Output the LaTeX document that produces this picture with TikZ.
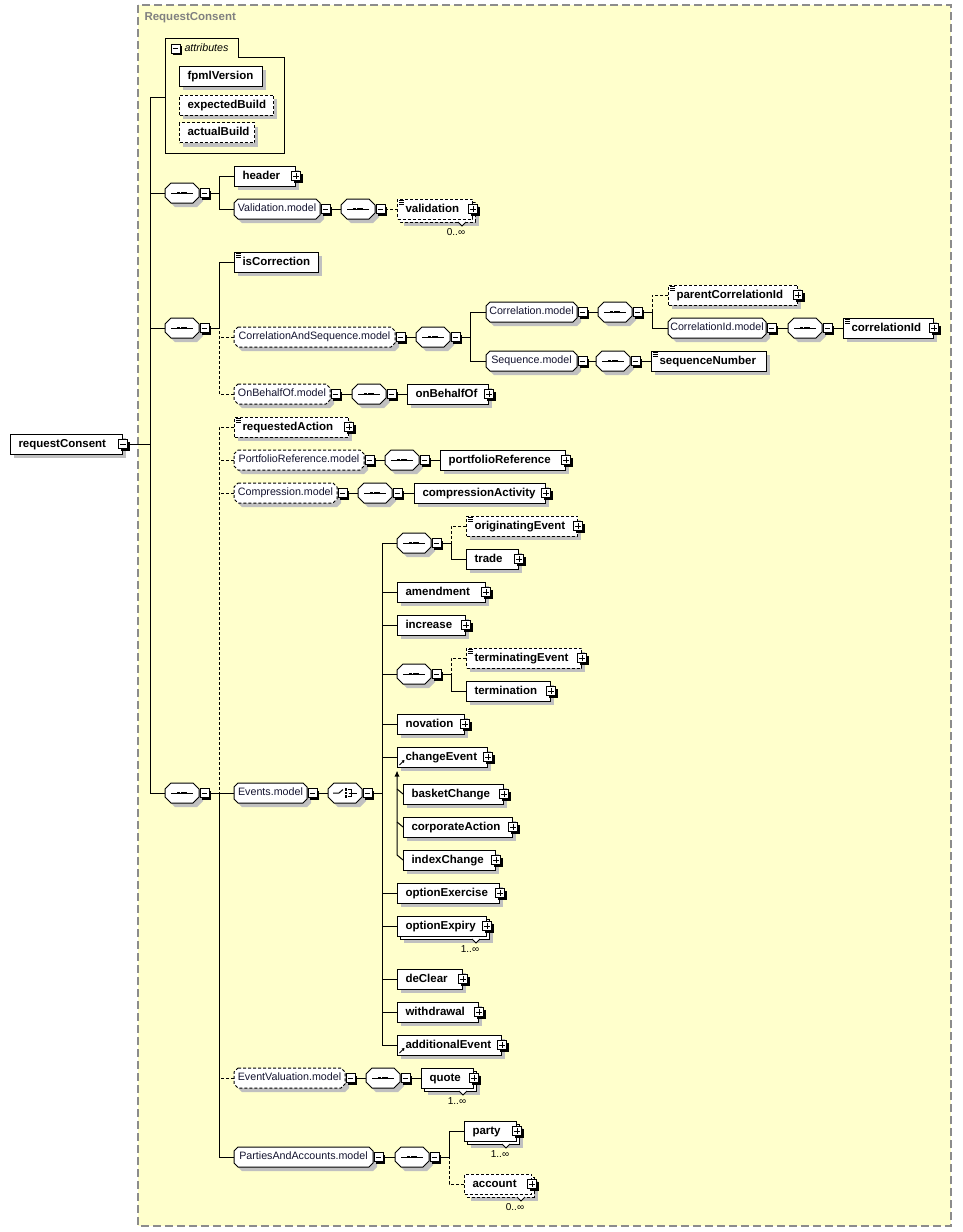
\documentclass[tikz,border=0pt]{standalone}
\usepackage{fontspec}
\setmainfont{Liberation Sans}
\usetikzlibrary{arrows.meta}
\definecolor{bgyellow}{RGB}{255,255,204}
\definecolor{shadowgray}{RGB}{192,192,192}
\definecolor{bordergray}{RGB}{140,140,140}
\definecolor{titlegray}{RGB}{128,128,128}
\definecolor{modtext}{RGB}{20,20,48}
\newcommand{\xElFont}{\fontsize{11.5}{13}\selectfont\bfseries}
\newcommand{\xMdFont}{\fontsize{10.7}{12}\selectfont}
\newcommand{\xMlFont}{\fontsize{10}{11}\selectfont}
\tikzset{
 dsh/.style={dash pattern=on 3pt off 2pt},
 elbox/.style={rectangle, draw, fill=white, minimum height=20pt, inner xsep=8pt, inner ysep=0pt, anchor=west, align=left, font=\xElFont, text height=8.5pt, text depth=2.5pt},
 modbox/.style={rectangle, inner sep=0pt, minimum height=20pt, font=\xMdFont, text=modtext, text height=8pt, text depth=2.2pt},
 compbox/.style={rectangle, inner sep=0pt, minimum width=34pt, minimum height=20pt},
 pmsh/.style={rectangle, fill=black, minimum size=9pt, inner sep=0pt},
 pmbox/.style={rectangle, draw, fill=white, minimum size=9pt, inner sep=0pt, line width=0.8pt},
 pmminus/.style={path picture={\draw[line width=0.8pt] ([xshift=1.8pt]path picture bounding box.west) -- ([xshift=-1.8pt]path picture bounding box.east);}},
 pmplus/.style={path picture={\draw[line width=0.8pt] ([xshift=1.8pt]path picture bounding box.west) -- ([xshift=-1.8pt]path picture bounding box.east) ([yshift=1.8pt]path picture bounding box.south) -- ([yshift=-1.8pt]path picture bounding box.north);}},
 multlabel/.style={font=\xMlFont, inner sep=0pt},
}
% octagon outline: style, x1, x2, yc, chamfer
\newcommand{\xOct}[5]{%
  \path[#1] ({#2+#5},{#4-10}) -- ({#3-#5},{#4-10}) -- ({#3},{#4-10+#5}) -- ({#3},{#4+10-#5}) -- ({#3-#5},{#4+10}) -- ({#2+#5},{#4+10}) -- ({#2},{#4+10-#5}) -- ({#2},{#4-10+#5}) -- cycle;}
% element box: opts, name, x1, x2, yc, text
\newcommand{\xEl}[6][]{%
  \fill[shadowgray] ({#3+4},{#5-6}) rectangle ({#4+4},{#5+14});
  \pgfmathsetmacro{\xTW}{#4-#3-16}%
  \node[elbox,#1,text width=\xTW pt] (#2) at (#3,#5) {#6};}
% repeated element box: opts, name, x1, x2, yc, text, label
\newcommand{\xElM}[7][]{%
  \fill[shadowgray] ({#3+7},{#5-3}) rectangle ({#4+7},{#5+17});
  \draw[fill=white,#1] ({#3+3},{#5-7}) rectangle ({#4+3},{#5+13});
  \pgfmathsetmacro{\xTW}{#4-#3-16}%
  \node[elbox,#1,text width=\xTW pt] (#2) at (#3,#5) {#6};
  \draw[fill=white,line width=0.8pt] ({#4-14},{#5+13}) -- ({#4-10},{#5+17}) -- ({#4-6},{#5+13});
  \node[multlabel] (#2-ml) at ({#4-16},{#5+23.5}) {#7};}
% model group: opts, name, x1, x2, yc, text
\newcommand{\xMod}[6][]{%
  \xOct{fill=shadowgray,shift={(4,4)}}{#3}{#4}{#5}{4}
  \xOct{draw,fill=white,#1}{#3}{#4}{#5}{4}
  \pgfmathsetmacro{\xMW}{#4-#3}%
  \node[modbox,minimum width=\xMW pt] (#2) at ({(#3+#4)/2},{#5}) {#6};
  \xMinus{#2}}
\newcommand{\xMinus}[1]{%
  \node[pmsh,anchor=west] at ([shift={(2,2)}]#1.east) {};
  \node[pmbox,pmminus,anchor=west] (#1-m) at (#1.east) {};}
\newcommand{\xMinusC}[1]{%
  \node[pmsh] at ([shift={(2,2)}]#1.east) {};
  \node[pmbox,pmminus] (#1-m) at (#1.east) {};}
\newcommand{\xPlus}[1]{%
  \node[pmsh] at ([shift={(2,2)}]#1.east) {};
  \node[pmbox,pmplus] (#1-p) at (#1.east) {};}
\newcommand{\xDoc}[1]{%
  \draw[line width=0.6pt] ([shift={(2,2)}]#1.north west) -- ++(5,0) ([shift={(2,3.8)}]#1.north west) -- ++(5,0) ([shift={(2,5.6)}]#1.north west) -- ++(5,0);}
\newcommand{\xRef}[1]{%
  \draw[line width=0.9pt,-{Triangle[length=2.5pt,width=3pt]}] ([shift={(2.5,-2.5)}]#1.south west) -- ([shift={(7.5,-7.5)}]#1.south west);}
% sequence compositor: name, x1, yc
\newcommand{\xSeq}[3]{%
  \xOct{fill=shadowgray,shift={(4,4)}}{#2}{#2+34}{#3}{6}
  \xOct{draw,fill=white}{#2}{#2+34}{#3}{6}
  \node[compbox] (#1) at ({#2+17},{#3}) {};
  \draw ([xshift=-11pt]#1.center) -- ([xshift=11pt]#1.center);
  \foreach \q in {-3.7,0,3.7} {\fill ([shift={(\q-1.5,-1.4)}]#1.center) rectangle ++(3,2.8);}
  \xMinus{#1}}
% choice compositor: name, x1, yc
\newcommand{\xCho}[3]{%
  \xOct{fill=shadowgray,shift={(4,4)}}{#2}{#2+34}{#3}{6}
  \xOct{draw,fill=white}{#2}{#2+34}{#3}{6}
  \node[compbox] (#1) at ({#2+17},{#3}) {};
  \draw ([xshift=-12pt]#1.center) -- ([xshift=-6pt]#1.center) -- ([shift={(-2,-3.5)}]#1.center);
  \foreach \q in {-3.6,0,3.6} {\fill ([shift={(-0.4,\q-1.3)}]#1.center) rectangle ++(2.6,2.6);}
  \draw ([shift={(2.8,-3.6)}]#1.center) -- ([shift={(6.5,-3.6)}]#1.center) -- ([shift={(6.5,3.6)}]#1.center) -- ([shift={(2.8,3.6)}]#1.center);
  \draw ([shift={(4,0)}]#1.center) -- ([shift={(12,0)}]#1.center);
  \xMinus{#1}}

\begin{document}
\begin{tikzpicture}[x=1pt,y=-1pt,line width=1pt]
\useasboundingbox (0,0) rectangle (962,1232);
\fill[bgyellow] (138,5) rectangle (951,1226);
\draw[bordergray, line width=1.5pt, dash pattern=on 8pt off 4pt] (138,5) rectangle (951,1226);
\node[anchor=west, font=\xElFont, text=titlegray, inner sep=0pt] (title) at (144,18) {RequestConsent};

% root
\xEl{rc}{10}{122}{444}{requestConsent}
\xMinusC{rc}

% attributes
\draw (165,153) -- (165,38) -- (238,38) -- (238,57) -- (284,57) -- (284,153) -- cycle;
\node[inner sep=0pt, minimum width=119pt, minimum height=115pt] (attr) at (224.5,95.5) {};
\node[pmsh] at (177.5,50.5) {};
\node[pmbox,pmminus] (attr-m) at (175.5,48.5) {};
\node[anchor=west, font=\xMdFont\itshape, inner sep=0pt] (attrTab) at (184,48) {attributes};
\xEl{fpmlVersion}{179}{262}{76}{fpmlVersion}
\xEl[dsh]{expectedBuild}{179}{273}{105}{expectedBuild}
\xEl[dsh]{actualBuild}{179}{254}{132.5}{actualBuild}

% sequence 1
\xSeq{c1}{165}{193}
\xEl{header}{234}{295}{176}{header}
\xPlus{header}
\xMod{mVal}{234}{320}{209}{Validation.model}
\xSeq{cVal}{341}{209}
\xElM[dsh]{validation}{397}{472}{209}{validation}{0..∞}
\xDoc{validation}
\xPlus{validation}

% sequence 2
\xSeq{c2}{165}{328}
\xEl{isCorrection}{234}{318}{262}{isCorrection}
\xDoc{isCorrection}
\xMod[dsh]{mCS}{234}{395}{337}{CorrelationAndSequence.model}
\xSeq{cCS}{416}{337}
\xMod{mCor}{486}{577}{312}{Correlation.model}
\xSeq{cCor}{598}{312}
\xEl[dsh]{parentCorrelationId}{668}{797}{295}{parentCorrelationId}
\xDoc{parentCorrelationId}
\xPlus{parentCorrelationId}
\xMod{mCId}{668}{766}{328}{CorrelationId.model}
\xSeq{cCId}{788}{328}
\xEl{correlationId}{843}{933}{328}{correlationId}
\xDoc{correlationId}
\xPlus{correlationId}
\xMod{mSeq}{486}{577}{361}{Sequence.model}
\xSeq{cSeq}{596}{361}
\xEl{sequenceNumber}{651}{766}{361}{sequenceNumber}
\xDoc{sequenceNumber}
\xMod[dsh]{mOBO}{234}{330}{394}{OnBehalfOf.model}
\xSeq{cOBO}{352}{394}
\xEl{onBehalfOf}{407}{488}{394}{onBehalfOf}
\xPlus{onBehalfOf}

% sequence 4
\xSeq{c4}{165}{793}
\xEl[dsh]{requestedAction}{234}{348}{427}{requestedAction}
\xDoc{requestedAction}
\xPlus{requestedAction}
\xMod[dsh]{mPR}{234}{364}{460}{PortfolioReference.model}
\xSeq{cPR}{385}{460}
\xEl{portfolioReference}{440}{565}{460}{portfolioReference}
\xPlus{portfolioReference}
\xMod[dsh]{mCmp}{234}{337}{493}{Compression.model}
\xSeq{cCmp}{358}{493}
\xEl{compressionActivity}{414}{545}{493}{compressionActivity}
\xPlus{compressionActivity}
\xMod{mEv}{234}{307}{793}{Events.model}
\xCho{cEv}{328}{793}

\xSeq{cA}{397}{543}
\xEl[dsh]{originatingEvent}{466}{577}{526}{originatingEvent}
\xDoc{originatingEvent}
\xPlus{originatingEvent}
\xEl{trade}{466}{518}{559}{trade}
\xPlus{trade}
\xEl{amendment}{397}{485}{592}{amendment}
\xPlus{amendment}
\xEl{increase}{397}{465}{625}{increase}
\xPlus{increase}
\xSeq{cB}{397}{674}
\xEl[dsh]{terminatingEvent}{466}{581}{658}{terminatingEvent}
\xDoc{terminatingEvent}
\xPlus{terminatingEvent}
\xEl{termination}{466}{550}{691}{termination}
\xPlus{termination}
\xEl{novation}{397}{464}{724}{novation}
\xPlus{novation}
\xEl{changeEvent}{397}{487}{757}{changeEvent}
\xPlus{changeEvent}
\xRef{changeEvent}
\xEl{basketChange}{403}{503}{794}{basketChange}
\xPlus{basketChange}
\xEl{corporateAction}{403}{512}{827}{corporateAction}
\xPlus{corporateAction}
\xEl{indexChange}{403}{495}{860}{indexChange}
\xPlus{indexChange}
\xEl{optionExercise}{397}{499}{893}{optionExercise}
\xPlus{optionExercise}
\xElM{optionExpiry}{397}{486}{926}{optionExpiry}{1..∞}
\xPlus{optionExpiry}
\xEl{deClear}{397}{462}{979}{deClear}
\xPlus{deClear}
\xEl{withdrawal}{397}{478}{1012}{withdrawal}
\xPlus{withdrawal}
\xEl{additionalEvent}{397}{501}{1045}{additionalEvent}
\xPlus{additionalEvent}
\xRef{additionalEvent}

\xMod[dsh]{mEVal}{234}{345}{1078}{EventValuation.model}
\xSeq{cEVal}{366}{1078}
\xElM{quote}{421}{473}{1078}{quote}{1..∞}
\xPlus{quote}
\xMod{mPA}{234}{373}{1157}{PartiesAndAccounts.model}
\xSeq{cPA}{395}{1157}
\xElM{party}{464}{516}{1131}{party}{1..∞}
\xPlus{party}
\xElM[dsh]{account}{464}{531}{1184}{account}{0..∞}
\xPlus{account}

% ---------- connectors ----------
\coordinate (T0) at (150,444);
\coordinate (attrIn) at (165,97);
\draw (rc-m.east) -- (T0);
\draw (attrIn) -| (T0);
\draw (c1.west) -| (T0);
\draw (c2.west) -| (T0);
\draw (c4.west) -| (T0);

\coordinate (T1) at (219,193);
\draw (c1-m.east) -- (T1);
\draw (header.west) -| (T1);
\draw (mVal.west) -| (T1);
\draw (mVal-m.east) -- (cVal.west);
\draw[dsh] (cVal-m.east) -- (validation.west);

\coordinate (T2) at (219,328);
\draw (c2-m.east) -- (T2);
\draw (isCorrection.west) -| (T2);
\draw[dsh] (mOBO.west) -| (T2);
\draw[dsh] (mCS.west) -- (mCS.west -| T2);
\draw (mCS-m.east) -- (cCS.west);
\coordinate (TCS) at (470,337);
\draw (cCS-m.east) -- (TCS);
\draw (mCor.west) -| (TCS);
\draw (mSeq.west) -| (TCS);
\draw (mCor-m.east) -- (cCor.west);
\coordinate (TCor) at (652,312);
\draw (cCor-m.east) -- (TCor);
\draw[dsh] (parentCorrelationId.west) -| (TCor);
\draw (mCId.west) -| (TCor);
\draw (mCId-m.east) -- (cCId.west);
\draw (cCId-m.east) -- (correlationId.west);
\draw (mSeq-m.east) -- (cSeq.west);
\draw (cSeq-m.east) -- (sequenceNumber.west);
\draw (mOBO-m.east) -- (cOBO.west);
\draw (cOBO-m.east) -- (onBehalfOf.west);

\coordinate (T4) at (219,793);
\draw (c4-m.east) -- (T4);
\draw[dsh] (requestedAction.west) -| (T4);
\draw[dsh] (mPR.west) -- (mPR.west -| T4);
\draw[dsh] (mCmp.west) -- (mCmp.west -| T4);
\draw[dsh] (mEVal.west) -- (mEVal.west -| T4);
\draw (mEv.west) -- (T4);
\draw (mPA.west) -| (T4);
\draw (mPR-m.east) -- (cPR.west);
\draw (cPR-m.east) -- (portfolioReference.west);
\draw (mCmp-m.east) -- (cCmp.west);
\draw (cCmp-m.east) -- (compressionActivity.west);
\draw (mEv-m.east) -- (cEv.west);

\coordinate (TEv) at (382,793);
\draw (cEv-m.east) -- (TEv);
\draw (cA.west) -| (TEv);
\draw (amendment.west) -| (TEv);
\draw (increase.west) -| (TEv);
\draw (cB.west) -| (TEv);
\draw (novation.west) -| (TEv);
\draw (changeEvent.west) -| (TEv);
\draw (optionExercise.west) -| (TEv);
\draw (optionExpiry.west) -| (TEv);
\draw (deClear.west) -| (TEv);
\draw (withdrawal.west) -| (TEv);
\draw (additionalEvent.west) -| (TEv);

\coordinate (TA) at (451,543);
\draw (cA-m.east) -- (TA);
\draw[dsh] (originatingEvent.west) -| (TA);
\draw (trade.west) -| (TA);
\coordinate (TB) at (451,674);
\draw (cB-m.east) -- (TB);
\draw[dsh] (terminatingEvent.west) -| (TB);
\draw (termination.west) -| (TB);

% substitution group
\coordinate (sg) at ([yshift=-4pt]changeEvent.south west);
\fill (sg) -- ++(-2.5,5) -- ++(5,0) -- cycle;
\draw (indexChange.west) -- ++(-6,-5) -- (sg);
\draw (basketChange.west) -- ++(-6,-5);
\draw (corporateAction.west) -- ++(-6,-5);

\draw (mEVal-m.east) -- (cEVal.west);
\draw (cEVal-m.east) -- (quote.west);
\draw (mPA-m.east) -- (cPA.west);
\coordinate (TPA) at (449,1157);
\draw (cPA-m.east) -- (TPA);
\draw (party.west) -| (TPA);
\draw[dsh] (account.west) -| (TPA);
\end{tikzpicture}
\end{document}
